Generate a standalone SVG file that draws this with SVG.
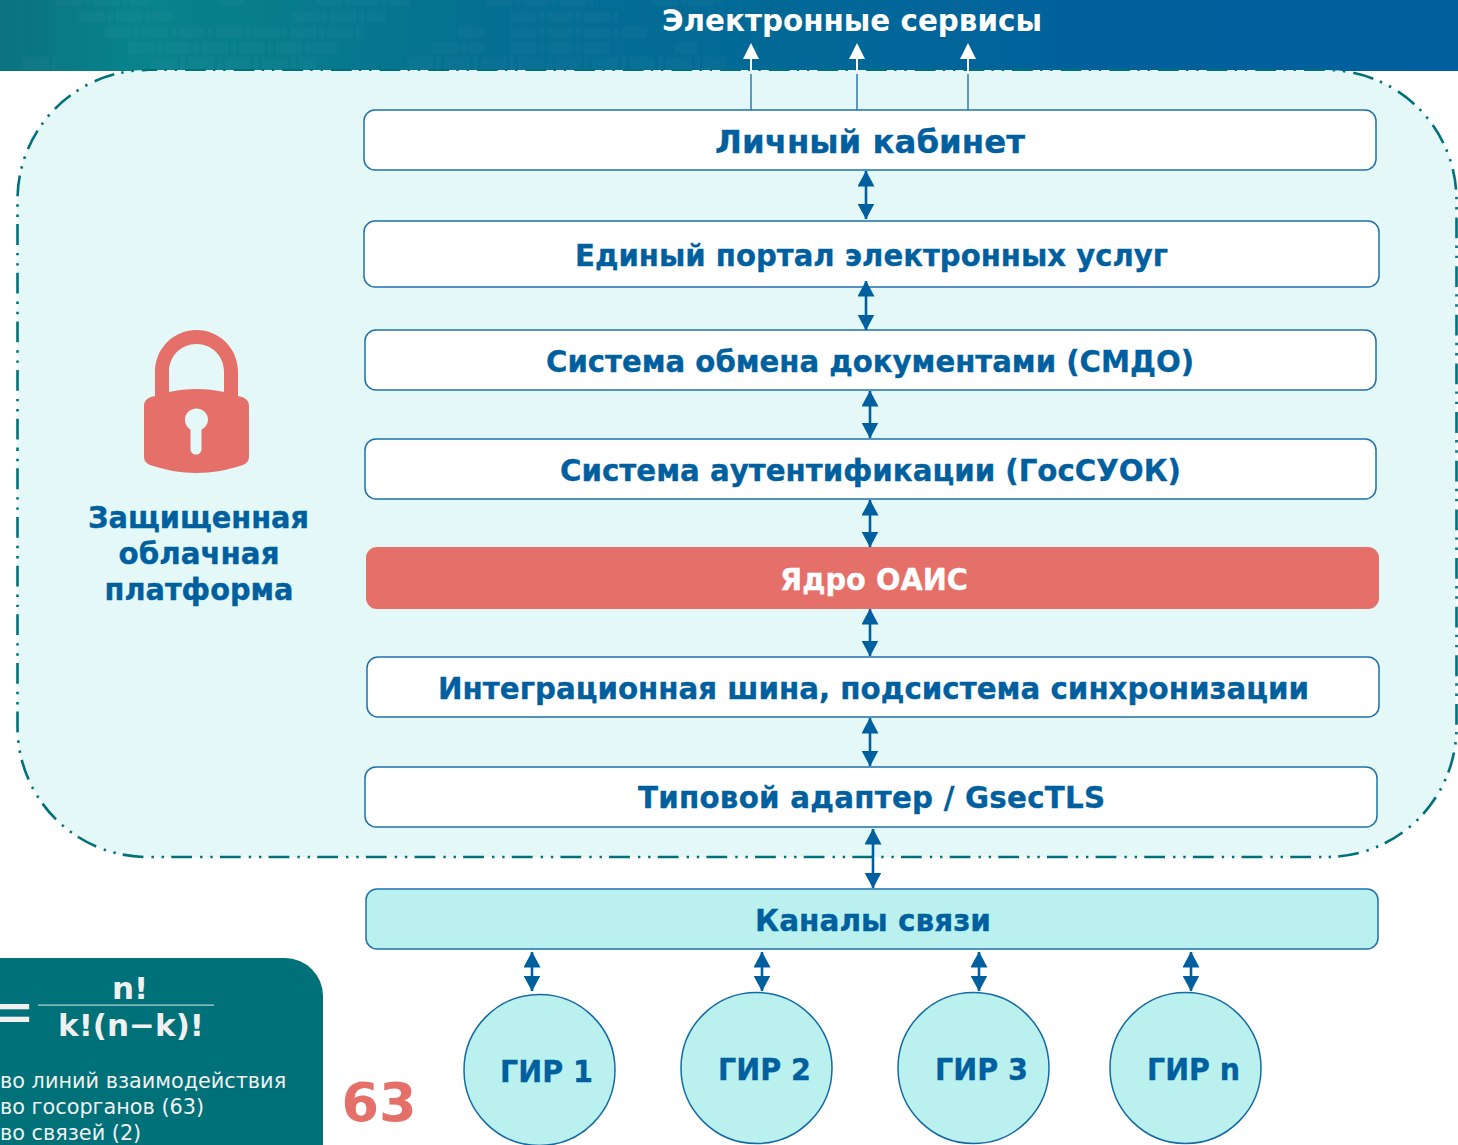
<svg xmlns="http://www.w3.org/2000/svg" width="1458" height="1145" viewBox="0 0 1458 1145">
<defs>
<linearGradient id="hdr" x1="0" y1="0" x2="1" y2="0">
<stop offset="0" stop-color="#0b7280"/>
<stop offset="0.09" stop-color="#08838b"/>
<stop offset="0.2" stop-color="#077c8c"/>
<stop offset="0.33" stop-color="#056f92"/>
<stop offset="0.5" stop-color="#026a96"/>
<stop offset="0.75" stop-color="#00619c"/>
<stop offset="1" stop-color="#005f9e"/>
</linearGradient>
<marker id="h" viewBox="0 0 16 17" refX="15.5" refY="8.5" markerWidth="16" markerHeight="17" markerUnits="userSpaceOnUse" orient="auto-start-reverse"><path d="M0 0L16 8.500L0 17Z" fill="#005f9e"/></marker>
</defs>
<style>
text{font-family:"DejaVu Sans","Verdana",sans-serif;font-weight:700;text-anchor:middle}
.box{fill:#fff;stroke:#1f70ad;stroke-width:1.5}
.t{fill:#005f9e;font-size:29.3px;stroke:#005f9e;stroke-width:.35px}
.gir{fill:#baf0ed;stroke:#146aa5;stroke-width:1.5}
.a{stroke:#005f9e;stroke-width:2.6;fill:none;marker-start:url(#h);marker-end:url(#h)}
.n{fill:#f0f0f0;font-weight:400;font-size:20.8px;text-anchor:start}
.blk path{stroke:#fff;stroke-opacity:.028;fill:none;stroke-dasharray:26 3 5 3}
.dash{fill:none;stroke:#00707a;stroke-width:2.6;stroke-dasharray:20.8 7.2 2.4 7.8 2.4 8.05}
</style>
<rect id="header" x="0" y="0" width="1458" height="71" fill="url(#hdr)"/>
<g class="blk">
<path stroke-width="12" d="M56 0H149M219 0H244M316 0H410M486 0H598M652 0H726"/>
<path stroke-width="11" d="M79 16.500H172M293 16.500H386M510 16.500H621"/>
<path stroke-width="11" d="M105 32.500H361M458 32.500H484M510 32.500H647"/>
<path stroke-width="12" d="M128 48H337M433 48H484M510 48H610M675 48H698"/>
<path stroke-width="13" d="M23 63.500H60M151 63.500H316M407 63.500H726"/>
</g>
<g id="cloud-platform">
<rect x="17.500" y="70" width="1439" height="787" rx="130" ry="130" fill="#e3f8f7"/>
<path class="dash" style="stroke-dashoffset:-10.500" d="M17.500 450V200A130 130 0 0 1 147.500 70"/>
<path class="dash" style="stroke-width:2;stroke-dashoffset:-38" d="M147 70H1327"/>
<path class="dash" style="stroke-dashoffset:-27" d="M1326.500 70A130 130 0 0 1 1456.500 200V727A130 130 0 0 1 1326.500 857"/>
<path class="dash" style="stroke-dashoffset:-16" d="M1327 857H147.500A130 130 0 0 1 17.500 727V450"/>
</g>
<g id="lock-group">
<path id="lock" fill="#e56f69" fill-rule="evenodd" d="M155 396V372C155 348 174 330 196.500 330C219 330 238 348 238 372V396C243 397 249 399 249 406V456C249 461 247 463 243 465C228 470 212 473 196.500 473C181 473 165 470 150 465C146 463 144 461 144 456V406C144 399 150 397 155 396ZM169 392C178 390 187 389 196.500 389C206 389 215 390 224 392V372C224 356 212 344 196.500 344C181 344 169 356 169 372ZM196.500 408.500C190 408.500 185 413.500 185 419.500C185 424 187 427.500 190.500 429.500V449C190.500 452.500 193 454.500 196 454.500C199 454.500 201.500 452.500 201.500 449V429.500C205.500 427.500 208 424 208 419.500C208 413.500 203 408.500 196.500 408.500Z"/>
<text class="t" x="198.500" y="528" textLength="221" lengthAdjust="spacingAndGlyphs">Защищенная</text>
<text class="t" x="199" y="564" textLength="161" lengthAdjust="spacingAndGlyphs">облачная</text>
<text class="t" x="199" y="600" textLength="189" lengthAdjust="spacingAndGlyphs">платформа</text>
</g>
<g id="n-kabinet"><rect class="box" x="364" y="110" width="1012" height="60" rx="11"/><text class="t" x="870" y="153" style="font-size:32.5px" textLength="310" lengthAdjust="spacingAndGlyphs">Личный кабинет</text></g>
<g id="n-portal"><rect class="box" x="364" y="221" width="1015" height="66" rx="11"/><text class="t" x="871.500" y="266" textLength="593" lengthAdjust="spacingAndGlyphs">Единый портал электронных услуг</text></g>
<g id="n-smdo"><rect class="box" x="365" y="330" width="1011" height="60" rx="11"/><text class="t" x="870" y="372" textLength="648" lengthAdjust="spacingAndGlyphs">Система обмена документами (СМДО)</text></g>
<g id="n-auth"><rect class="box" x="365" y="439" width="1011" height="60" rx="11"/><text class="t" x="870.500" y="481" textLength="621" lengthAdjust="spacingAndGlyphs">Система аутентификации (ГосСУОК)</text></g>
<g id="n-core"><rect x="366" y="547" width="1013" height="62" rx="11" fill="#e56f69"/><text class="t" x="874" y="590" style="fill:#fff;stroke:#fff" textLength="188" lengthAdjust="spacingAndGlyphs">Ядро ОАИС</text></g>
<g id="n-bus"><rect class="box" x="367" y="657" width="1012" height="60" rx="11"/><text class="t" x="873.500" y="699" textLength="871" lengthAdjust="spacingAndGlyphs">Интеграционная шина, подсистема синхронизации</text></g>
<g id="n-adapter"><rect class="box" x="365" y="767" width="1012" height="60" rx="11"/><text class="t" x="871.500" y="808" textLength="467" lengthAdjust="spacing">Типовой адаптер / GsecTLS</text></g>
<g id="n-channels"><rect class="box" x="366" y="889" width="1012" height="60" rx="11" style="fill:#baf0ed"/><text class="t" x="873" y="931" textLength="236" lengthAdjust="spacingAndGlyphs">Каналы связи</text></g>
<g id="gir-1"><circle class="gir" cx="539.500" cy="1070" r="75.500"/><text class="t" x="546.500" y="1082" textLength="93" lengthAdjust="spacingAndGlyphs">ГИР 1</text></g>
<g id="gir-2"><circle class="gir" cx="756.500" cy="1068" r="75.500"/><text class="t" x="764.500" y="1080" textLength="93" lengthAdjust="spacingAndGlyphs">ГИР 2</text></g>
<g id="gir-3"><circle class="gir" cx="973.500" cy="1068" r="75.500"/><text class="t" x="981.500" y="1080" textLength="93" lengthAdjust="spacingAndGlyphs">ГИР 3</text></g>
<g id="gir-n"><circle class="gir" cx="1185.500" cy="1068" r="75.500"/><text class="t" x="1193.500" y="1080" textLength="93" lengthAdjust="spacingAndGlyphs">ГИР n</text></g>
<g id="connectors">
<path class="a" d="M866 171V219"/>
<path class="a" d="M866 281V330"/>
<path class="a" d="M870 391V438"/>
<path class="a" d="M870 500V547"/>
<path class="a" d="M870 609V656"/>
<path class="a" d="M870 718V766"/>
<path class="a" d="M873 829V888"/>
<path class="a" d="M532 952V991"/>
<path class="a" d="M762 952V991"/>
<path class="a" d="M979 952V991"/>
<path class="a" d="M1191 952V991"/>
<g fill="#fff" stroke="none">
<path d="M751 43L759 59H743Z"/><rect x="750" y="58" width="2" height="14"/>
<path d="M857 43L865 59H849Z"/><rect x="856" y="58" width="2" height="14"/>
<path d="M968 43L976 59H960Z"/><rect x="967" y="58" width="2" height="14"/>
</g>
<path d="M751 74V110M857 74V110M968 74V110" stroke="#2f7bb0" stroke-width="1.500" fill="none"/>
</g>
<g id="formula-panel">
<rect x="-60" y="958" width="383" height="240" rx="38" fill="#007079"/>
<text x="35.600" y="1032.500" font-size="62" fill="#f0f0f0" style="font-weight:400;text-anchor:end">=</text>
<text x="130" y="999" font-size="31" fill="#f0f0f0">n!</text>
<rect x="38" y="1004.500" width="176" height="1.200" fill="#b8d6d8"/>
<text x="131" y="1036" font-size="31" fill="#f0f0f0">k!(n−k)!</text>
<text class="n" x="0" y="1088">во линий взаимодействия</text>
<text class="n" x="0" y="1114">во госорганов (63)</text>
<text class="n" x="0" y="1140">во связей (2)</text>
</g>
<text id="count" x="379" y="1121" font-size="54" fill="#e56f69">63</text>
<text id="services" x="852" y="31" font-size="29.5" fill="#fff" textLength="380" lengthAdjust="spacingAndGlyphs">Электронные сервисы</text>
</svg>
